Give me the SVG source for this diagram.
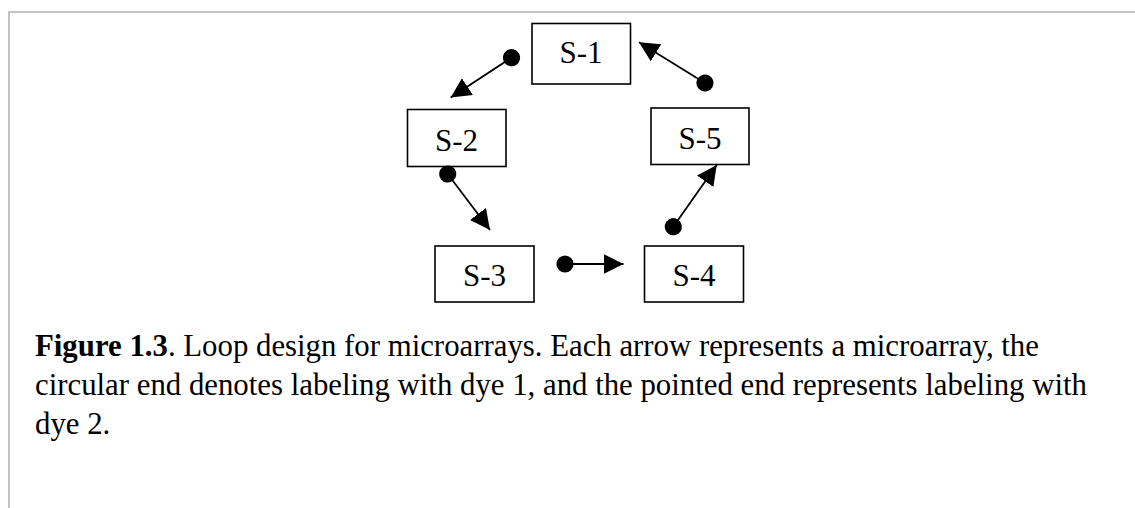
<svg xmlns="http://www.w3.org/2000/svg" width="1135" height="508" viewBox="0 0 1135 508">
  <style>
    .frame { stroke: #c3c3c3; stroke-width: 2; fill: none; }
    .box { fill: #ffffff; stroke: #000000; stroke-width: 1.6; }
    .label { font-family: "Liberation Serif", "Times New Roman", serif; font-size: 31px; fill: #000000; text-anchor: middle; }
    .edge { stroke: #000000; stroke-width: 1.8; fill: none; marker-start: url(#dot); marker-end: url(#head); }
    .caption { font-family: "Liberation Serif", "Times New Roman", serif; font-size: 30.8px; fill: #000000; }
    .bold { font-weight: bold; }
  </style>
  <defs>
    <marker id="dot" markerUnits="userSpaceOnUse" markerWidth="20" markerHeight="20" refX="10" refY="10" orient="auto">
      <circle cx="10" cy="10" r="8.6" fill="#000000"/>
    </marker>
    <marker id="head" markerUnits="userSpaceOnUse" markerWidth="22" markerHeight="22" refX="20" refY="10" orient="auto">
      <path d="M0,0 L20,10 L0,20 Z" fill="#000000"/>
    </marker>
  </defs>

  <rect width="1135" height="508" fill="#ffffff"/>

  <!-- page frame -->
  <path class="frame" d="M9,508 L9,12 L1135,12"/>

  <!-- samples -->
  <g id="s1">
    <rect class="box" x="532" y="23.5" width="98.5" height="60.5"/>
    <text class="label" x="581" y="63">S-1</text>
  </g>
  <g id="s2">
    <rect class="box" x="407.5" y="109.5" width="98.5" height="57"/>
    <text class="label" x="456.5" y="151">S-2</text>
  </g>
  <g id="s5">
    <rect class="box" x="651" y="108" width="98" height="56.5"/>
    <text class="label" x="700" y="148.5">S-5</text>
  </g>
  <g id="s3">
    <rect class="box" x="435" y="246" width="99" height="56"/>
    <text class="label" x="484.5" y="285.5">S-3</text>
  </g>
  <g id="s4">
    <rect class="box" x="644.5" y="246" width="99" height="56"/>
    <text class="label" x="694" y="285.5">S-4</text>
  </g>

  <!-- hybridisations: dot = dye 1, arrowhead = dye 2 -->
  <g id="connectors">
    <line class="edge" x1="511.5" y1="57.7" x2="450.7" y2="97.5"/>
    <line class="edge" x1="705" y1="83" x2="639" y2="42.3"/>
    <line class="edge" x1="447.7" y1="174" x2="490" y2="230"/>
    <line class="edge" x1="565" y1="264" x2="623.5" y2="264"/>
    <line class="edge" x1="673.3" y1="226.7" x2="716.7" y2="165"/>
  </g>

  <!-- caption -->
  <g id="caption">
    <text class="caption" x="35" y="356"><tspan class="bold">Figure 1.3</tspan>. Loop design for microarrays. Each arrow represents a microarray, the</text>
    <text class="caption" x="35" y="395">circular end denotes labeling with dye 1, and the pointed end represents labeling with</text>
    <text class="caption" x="35" y="434">dye 2.</text>
  </g>
</svg>
